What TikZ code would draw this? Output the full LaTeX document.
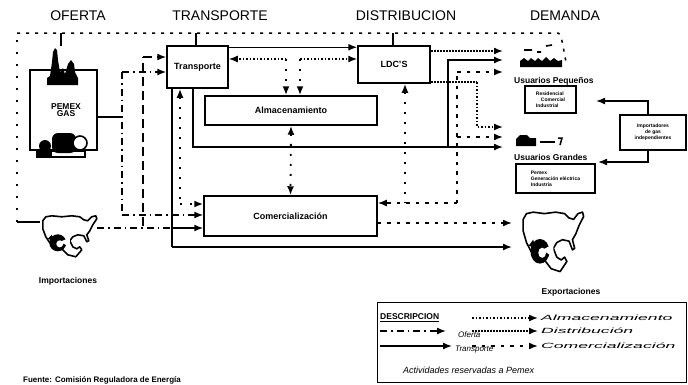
\documentclass[tikz,border=0pt]{standalone}
\usepackage{fontspec}
\setmainfont{Liberation Sans}
\usepackage{graphicx}
\usetikzlibrary{arrows.meta}
\tikzset{
  mapa/.pic={
    \draw[line width=1.6pt, fill=white, line join=round]
      (3,8) -- (6,4) -- (12,3) -- (22,4) -- (32,3) -- (40,4) -- (44,7) -- (48,8) -- (52,4) -- (56,3) -- (57,6)
      -- (53,12) -- (50,18) -- (47,22) -- (49,28) -- (47,29) -- (44,23) -- (38,22) -- (33,24) -- (30,28)
      -- (33,34) -- (37,36) -- (40,34) -- (42,37) -- (36,44) -- (28,42) -- (22,36) -- (16,32) -- (10,30)
      -- (6,24) -- (3,16) -- cycle;
    \fill (18,30) circle (8.5pt);
    \fill[white] (20,31) circle (3.5pt);
    \fill[white] (20,29) -- (30,25) -- (30,34) -- cycle;
    \fill (8,26) -- (12,22) -- (14,28) -- cycle;
  }
}
\begin{document}
\begin{tikzpicture}[x=1pt,y=-1pt,
  tip/.style={-{Latex[length=9pt,width=7pt]}},
  tipb/.style={{Latex[length=9pt,width=7pt]}-{Latex[length=9pt,width=7pt]}},
  tipr/.style={{Latex[length=9pt,width=7pt]}-},
  transp/.style={line width=1.5pt},
  oferta/.style={line width=1.4pt, dash pattern=on 7pt off 4pt on 1.5pt off 4pt},
  longdash/.style={line width=1.4pt, dash pattern=on 9pt off 5pt},
  almac/.style={line width=1.4pt, dash pattern=on 1.5pt off 2pt},
  almacv/.style={line width=1.8pt, dash pattern=on 2pt off 8pt},
  distrib/.style={line width=1.6pt, dash pattern=on 2pt off 1pt},
  comer/.style={line width=1.6pt, dash pattern=on 3.5pt off 6pt},
  resv/.style={line width=1.5pt, dash pattern=on 3pt off 6pt},
  resvv/.style={line width=1.8pt, dash pattern=on 2pt off 10pt},
  box/.style={draw, line width=1.5pt, fill=white, inner sep=0pt, font=\fontsize{9}{10}\selectfont\bfseries},
  smallbox/.style={draw, line width=1.3pt, fill=white, inner sep=1pt, align=left, font=\fontsize{5}{6}\selectfont\bfseries},
  hdr/.style={font=\fontsize{14}{16}\selectfont},
  lab/.style={font=\fontsize{8.5}{9}\selectfont\bfseries},
  leglab/.style={font=\fontsize{8}{9}\selectfont\itshape, anchor=west, inner sep=0pt}
]
\useasboundingbox (0,0) rectangle (688,384);
\fill[white] (0,0) rectangle (688,384);

% headers
\node[hdr] (hof) at (78,16) {OFERTA};
\node[hdr] (htr) at (220,16) {TRANSPORTE};
\node[hdr] (hdi) at (406,16) {DISTRIBUCION};
\node[hdr] (hde) at (565,16) {DEMANDA};

% boxes
\node[box, minimum width=61pt, minimum height=42pt] (trans) at (197.5,67) {Transporte};
\node[box, minimum width=72pt, minimum height=37pt] (ldc) at (394,64.5) {LDC'S};
\node[box, minimum width=172pt, minimum height=29pt] (alm) at (291,110.5) {Almacenamiento};
\node[box, minimum width=173pt, minimum height=40pt] (comer) at (290.5,216) {Comercialización};

% PEMEX box and icons
\node[draw, line width=1.5pt, minimum width=67pt, minimum height=80pt, inner sep=0pt] (pemex) at (63.5,110) {};
\fill (47,85) -- (47,78) -- (50,76) -- (52,62) -- (53,52) -- (55,48) -- (57,50) -- (58,60) -- (60,72)
  -- (63,68) -- (65,74) -- (68,64) -- (71,60) -- (74,64) -- (75,72) -- (78,78) -- (78,85) -- cycle;
\draw[line width=1.5pt, fill=white] (37,151) rectangle (85,157);
\fill (38,151) rectangle (52,157);
\fill (45,146) circle (6pt);
\fill[rounded corners=6pt] (52,133) rectangle (76,153);
\draw[line width=1.6pt, fill=white] (80,143) circle (7pt);
\node[lab, align=center] (pemext) at (66,110) {PEMEX\\[-2pt]GAS};

% reserved frame line
\coordinate (f0) at (17,222);
\coordinate (f1) at (17,33);
\coordinate (f2) at (558,33);
\coordinate (f3) at (566,62);
\coordinate (p0) at (61,46);
\draw[resvv] (f0) -- (f1);
\draw[resv] (f1) -- (f2) .. controls (562,34) and (563,48) .. (f3);
\draw[transp] (p0) -- (p0 |- f1);
\draw[transp] (trans.north -| 196,0) -- (196,33);
\draw[transp] (ldc.north -| 393,0) -- (393,33);

% map icons
\node[minimum width=57pt, minimum height=44pt, inner sep=0pt] (imp) at (68.5,235) {};
\pic at (imp.north west) {mapa};
\node[lab] (impl) at (68,281) {Importaciones};
\node[minimum width=64pt, minimum height=64pt, inner sep=0pt] (expo) at (552,240) {};
\pic[xscale=1.12, yscale=1.45] at (expo.north west) {mapa};
\node[lab] (expol) at (571,292) {Exportaciones};
\draw[transp] (f0) -- (imp.west |- f0);

% oferta lines
\coordinate (o1) at (122,117);
\coordinate (o2) at (122,72);
\coordinate (o3) at (122,215);
\draw[transp] (pemex.east |- o1) -- (o1);
\draw[oferta] (o2) -- (o3);
\draw[oferta,tip] (o2) -- (trans.west |- o2);
\draw[oferta,tip] (o3) -- (comer.west |- o3);

% importaciones lines
\coordinate (i1) at (143,226);
\coordinate (i2) at (143,57);
\coordinate (ts) at (172,228);
\draw[oferta] (imp.east |- ts) -- (ts);
\draw[longdash] (i1) -- (i2);
\draw[longdash,tip] (i2) -- (trans.west |- i2);

% transporte solid lines
\coordinate (t1) at (172,247);
\coordinate (t2) at (193,147);
\coordinate (t3) at (448,147);
\coordinate (t4) at (448,60);
\coordinate (ug3) at (503,147);
\coordinate (up2) at (503,60);
\coordinate (ex2) at (512,247);
\draw[transp] (trans.south -| t1) -- (t1);
\draw[transp,tip] (t1) -- (ex2);
\draw[transp,tip] (ts) -- (comer.west |- ts);
\draw[transp] (trans.south -| t2) -- (t2) -- (t3);
\draw[transp,tip] (t3) -- (ug3);
\draw[transp,tip] (t3) -- (t4) -- (up2);
\draw[transp,tip] ([yshift=-2pt]trans.north east) -- ([yshift=-2pt]ldc.north west);

% almacenamiento lines
\coordinate (a1) at (180,204);
\coordinate (s1) at (286,59);
\coordinate (s2) at (300,59);
\coordinate (l1) at (405,203);
\draw[almacv,tipr] (trans.south -| a1) -- (a1);
\draw[almacv,tip] (a1) -- (comer.west |- a1);
\draw[almac,tip] (s1) -- (trans.east |- s1);
\draw[almac,tip] (s2) -- (ldc.west |- s2);
\draw[almacv,tip] (s1) -- (alm.north -| s1);
\draw[almacv,tip] (s2) -- (alm.north -| s2);
\draw[almacv,tipb] (alm.south) -- (comer.north);
\draw[almacv,tipr] (ldc.south -| l1) -- (l1);

% distribucion lines
\coordinate (up1) at (503,51);
\coordinate (d2) at (477,82);
\coordinate (d3) at (477,127);
\coordinate (ug1) at (503,127);
\draw[distrib,tip] (ldc.east |- up1) -- (up1);
\draw[distrib] (ldc.east |- d2) -- (d2);
\draw[almac,tip] (d2) -- (d3) -- (ug1);

% comercializacion lines
\coordinate (c1) at (457,203);
\coordinate (c2) at (457,137);
\coordinate (c3) at (457,72);
\coordinate (up3) at (503,72);
\coordinate (ug2) at (503,137);
\coordinate (ex1) at (512,223);
\draw[comer,tip] (c1) -- (comer.east |- c1);
\draw[comer] (c1) -- (c3);
\draw[comer,tip] (c3) -- (up3);
\draw[comer,tip] (c2) -- (ug2);
\draw[comer,tip] (comer.east |- ex1) -- (ex1);

% demand side
\fill (520,67) -- (520,61) -- (524,58) -- (528,61) -- (531,58) -- (535,61) -- (538,58) -- (542,61)
  -- (546,57) -- (550,61) -- (554,58) -- (558,61) -- (562,60) -- (562,67) -- cycle;
\draw[line width=1.6pt] (524,50) -- (532,50) (537,52) -- (541,52) (546,46) -- (552,45);
\node[lab, anchor=west, inner sep=0pt] (upl) at (514,81) {Usuarios Pequeños};
\node[smallbox, minimum width=51pt, minimum height=27pt] (upb) at (550.5,99.5) {Residencial\\\quad Comercial\\Industrial};
\fill (516,146) -- (516,139) -- (520,135) -- (527,135) -- (530,138) -- (536,138) -- (536,146) -- cycle;
\draw[line width=2.5pt] (540,142) -- (555,142);
\draw[line width=1.5pt] (558,138) -- (562,138) -- (560,145);
\node[lab, anchor=west, inner sep=0pt] (ugl) at (514,157) {Usuarios Grandes};
\node[smallbox, minimum width=79pt, minimum height=29pt] (ugb) at (555.5,178.5) {Pemex\\Generación eléctrica\\Industria};
\node[smallbox, align=center, minimum width=66pt, minimum height=35pt] (rbox) at (653,132.5) {Importadores\\de gas\\independientes};
\coordinate (r1) at (648,101);
\coordinate (r2) at (596,101);
\coordinate (r3) at (648,162);
\coordinate (r4) at (598,162);
\draw[transp,tip] (rbox.north -| r1) -- (r1) -- (r2);
\draw[transp,tip] (rbox.south -| r3) -- (r3) -- (r4);

% legend
\node[draw, line width=1.4pt, minimum width=309pt, minimum height=80pt, anchor=north west, inner sep=0pt] (leg) at (377,302) {};
\node[font=\fontsize{8.5}{9}\selectfont\bfseries, anchor=west, inner sep=0pt] (ldesc) at (380,318) {\underline{DESCRIPCION}};
\coordinate (la1) at (380,331);
\coordinate (lb1) at (446,331);
\coordinate (la2) at (380,346);
\coordinate (lb2) at (452,346);
\draw[oferta,tip] (la1) -- (lb1);
\draw[transp,tip] (la2) -- (lb2);
\node[leglab] (lof) at (458,335) {Oferta};
\node[leglab] (ltr) at (455,350) {Transporte};
\node[leglab, font=\fontsize{9}{10}\selectfont\itshape] (lact) at (403,370) {Actividades reservadas a Pemex};
\coordinate (ra1) at (472,318);
\coordinate (rb1) at (538,318);
\coordinate (ra2) at (472,331);
\coordinate (rb2) at (538,331);
\coordinate (ra3) at (472,346);
\coordinate (rb3) at (538,346);
\draw[almac,tip] (ra1) -- (rb1);
\draw[distrib,tip] (ra2) -- (rb2);
\draw[comer,tip] (ra3) -- (rb3);
\node[leglab, font=\fontsize{7.5}{8}\selectfont\itshape] (lal) at (541,318) {\scalebox{2.35}[1]{Almacenamiento}};
\node[leglab, font=\fontsize{7.5}{8}\selectfont\itshape] (ldi) at (541,331) {\scalebox{2.35}[1]{Distribución}};
\node[leglab, font=\fontsize{7.5}{8}\selectfont\itshape] (lco) at (541,346) {\scalebox{2.35}[1]{Comercialización}};

% source
\node[font=\fontsize{8}{9}\selectfont\bfseries, anchor=west, inner sep=0pt] (fuente) at (23,380) {Fuente: Comisión Reguladora de Energía};
\end{tikzpicture}
\end{document}
